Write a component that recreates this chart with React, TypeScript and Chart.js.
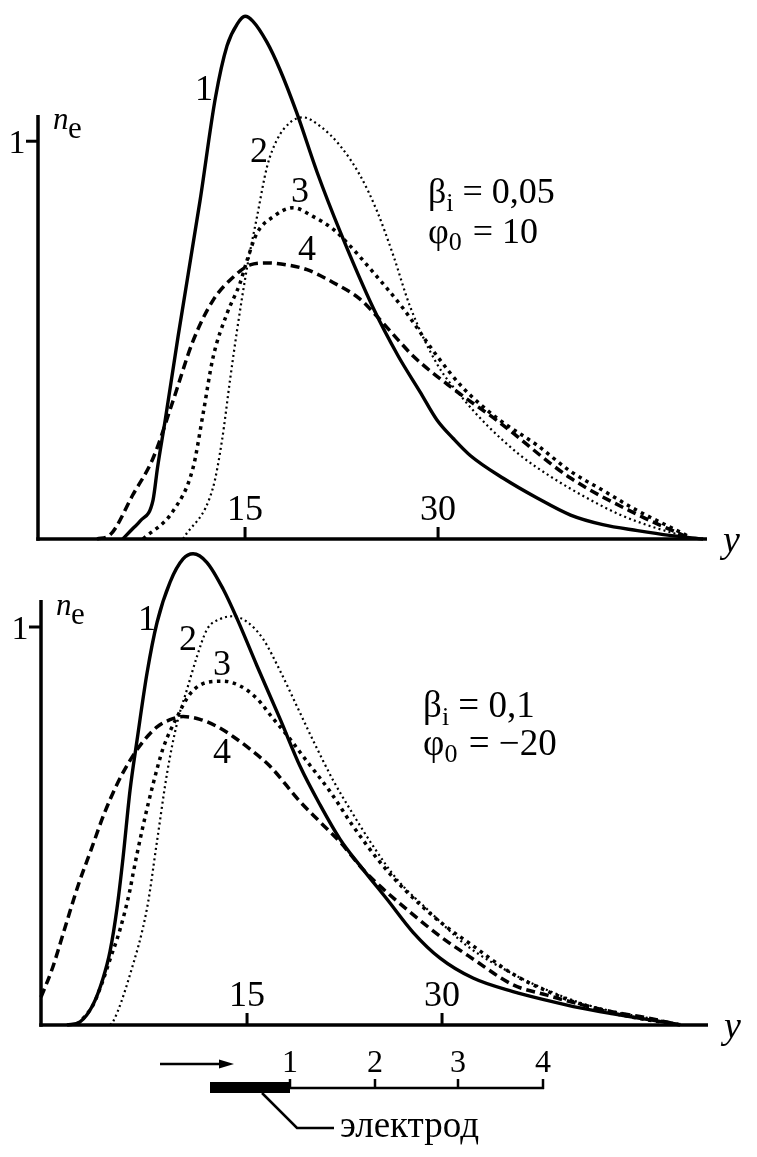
import React, { useEffect, useRef } from "react";
import { Chart, registerables } from "chart.js";

Chart.register(...registerables);

const SERIF = '"Liberation Serif", "Times New Roman", serif';

// ---------- shared ----------
const xTicks = [15, 30];
const yTicks = [1];
const curveNames = ["1", "2", "3", "4"];
const probeLabels = ["1", "2", "3", "4"];
const electrodeText = "электрод";

// ---------- panel A : βi = 0,05 ; φ0 = 10 ----------
const a1X = [5.5, 6.3, 6.85, 7.85, 8.2, 8.8, 9.8, 11.5, 12.7, 13.6, 14.4, 15.0, 15.6, 16.7, 17.7, 19.0, 20.6, 22.4, 25.0, 26.9, 28.6, 29.9, 31.2, 32.5, 35.1, 37.7, 40.3, 42.8, 45.5, 48.0, 50.6];
const a1Y = [0, 0.027, 0.045, 0.098, 0.18, 0.3, 0.51, 0.85, 1.11, 1.24, 1.295, 1.314, 1.302, 1.249, 1.181, 1.073, 0.922, 0.772, 0.578, 0.46, 0.37, 0.3, 0.252, 0.21, 0.152, 0.103, 0.06, 0.036, 0.021, 0.009, 0];

const a2X = [10.18, 12.51, 13.21, 13.83, 14.38, 15.16, 15.93, 16.71, 17.49, 18.5, 19.51, 20.83, 22.38, 23.94, 25.26, 26.5, 27.82, 29.92, 31.94, 33.81, 36.37, 38.94, 41.58, 44.14, 46.71, 49.35];
const a2Y = [0, 0.129, 0.248, 0.399, 0.525, 0.683, 0.81, 0.936, 1.004, 1.047, 1.06, 1.038, 0.989, 0.914, 0.824, 0.715, 0.585, 0.44, 0.353, 0.286, 0.211, 0.153, 0.103, 0.061, 0.03, 0.005];

const a3X = [7.07, 9.4, 10.96, 11.74, 12.51, 13.6, 14.61, 15.16, 15.93, 17.18, 18.73, 20.28, 21.84, 23.16, 24.71, 27.28, 29.92, 31.94, 34.58, 37.69, 40.26, 42.82, 45.46, 48.03, 49.58];
const a3Y = [0, 0.07, 0.179, 0.315, 0.456, 0.567, 0.643, 0.701, 0.769, 0.81, 0.833, 0.811, 0.779, 0.737, 0.68, 0.58, 0.46, 0.38, 0.304, 0.236, 0.171, 0.122, 0.072, 0.03, 0.005];

const a4X = [3.5, 4.5, 6.3, 7.85, 9.4, 10.96, 12.51, 14.07, 15.39, 16.71, 18.26, 19.82, 21.84, 23.94, 25.1, 27.05, 28.06, 31.16, 34.58, 40.26, 45.46, 49.35];
const a4Y = [0, 0.01, 0.112, 0.203, 0.347, 0.498, 0.6, 0.658, 0.689, 0.694, 0.689, 0.677, 0.645, 0.603, 0.565, 0.495, 0.46, 0.378, 0.298, 0.154, 0.062, 0.005];

// ---------- panel B : βi = 0,1 ; φ0 = –20 ----------
const b1X = [1.15, 2.15, 3.15, 3.92, 4.46, 5.0, 5.46, 6.0, 6.54, 7.31, 8.08, 9.08, 10.08, 10.85, 11.92, 13.15, 14.23, 15.77, 17.54, 19.08, 20.62, 22.15, 23.92, 25.77, 27.77, 29.85, 32.38, 35.46, 38.08, 40.62, 43.15, 45.77, 48.31];
const b1Y = [0, 0.008, 0.051, 0.117, 0.185, 0.294, 0.42, 0.59, 0.716, 0.885, 1.012, 1.113, 1.171, 1.184, 1.162, 1.096, 1.021, 0.902, 0.769, 0.65, 0.553, 0.467, 0.391, 0.316, 0.233, 0.168, 0.118, 0.084, 0.062, 0.043, 0.028, 0.014, 0.001];

const b2X = [4.46, 4.69, 6.0, 7.31, 8.08, 8.85, 9.62, 10.38, 11.15, 11.92, 12.92, 13.92, 15.0, 16.23, 17.54, 18.85, 20.08, 21.62, 23.15, 24.69, 26.54, 29.08, 31.92, 35.46, 38.08, 40.62, 43.15, 45.77, 48.31];
const b2Y = [0, 0.008, 0.127, 0.294, 0.463, 0.633, 0.759, 0.843, 0.926, 0.994, 1.02, 1.027, 1.013, 0.97, 0.89, 0.8, 0.715, 0.615, 0.53, 0.45, 0.366, 0.284, 0.199, 0.128, 0.088, 0.056, 0.034, 0.018, 0.002];

const b3X = [1.92, 2.15, 3.15, 3.92, 4.46, 5.23, 6.0, 6.23, 7.0, 7.77, 8.54, 9.62, 10.62, 11.92, 13.15, 14.46, 15.77, 17.0, 18.08, 19.62, 21.38, 23.15, 25.23, 27.31, 29.85, 32.38, 35.46, 38.08, 40.62, 43.15, 45.77, 48.31];
const b3Y = [0, 0.008, 0.05, 0.112, 0.165, 0.24, 0.34, 0.38, 0.5, 0.605, 0.695, 0.774, 0.832, 0.861, 0.864, 0.852, 0.82, 0.77, 0.728, 0.662, 0.587, 0.5, 0.409, 0.334, 0.259, 0.199, 0.128, 0.085, 0.053, 0.03, 0.013, 0.001];

const b4X = [-0.85, 0.0, 1.0, 2.0, 3.0, 4.0, 5.0, 6.0, 7.0, 8.08, 9.08, 10.08, 11.38, 12.69, 13.92, 15.23, 16.77, 19.08, 20.62, 22.15, 23.92, 25.23, 27.31, 29.85, 32.38, 35.46, 38.08, 40.62, 43.15, 45.77, 48.31];
const b4Y = [0.07, 0.14, 0.245, 0.35, 0.44, 0.53, 0.605, 0.665, 0.712, 0.749, 0.767, 0.775, 0.768, 0.75, 0.725, 0.693, 0.65, 0.561, 0.51, 0.46, 0.391, 0.349, 0.29, 0.223, 0.166, 0.101, 0.075, 0.052, 0.033, 0.018, 0];

// line styles for curves 1..4
const lineStyles = [
  { borderWidth: 3.4, borderDash: [] as number[] },
  { borderWidth: 2.2, borderDash: [2, 3.2] },
  { borderWidth: 3.5, borderDash: [3.5, 4.5] },
  { borderWidth: 3.5, borderDash: [9, 5] },
];

type Panel = {
  xs: number[][];
  ys: number[][];
  xMin: number;
  xMax: number;
  yMax: number;
  yAxisTop: number;
  padding: { left: number; right: number; top: number; bottom: number };
  labelPos: [number, number][];
  beta: string;
  phi: string;
  paramPos: [number, number, number];
  paramSize: number;
  schematic: boolean;
};

const panelA: Panel = {
  xs: [a1X, a2X, a3X, a4X],
  ys: [a1Y, a2Y, a3Y, a4Y],
  xMin: -1.09,
  xMax: 50.9,
  yMax: 1.35,
  yAxisTop: 1.066,
  padding: { left: 38, right: 50, top: 2, bottom: 618 },
  labelPos: [
    [11.81, 1.104],
    [16.09, 0.948],
    [19.27, 0.847],
    [19.82, 0.701],
  ],
  beta: "0,05",
  phi: "10",
  paramPos: [29.22, 0.845, 0.744],
  paramSize: 36,
  schematic: false,
};

const panelB: Panel = {
  xs: [b1X, b2X, b3X, b4X],
  ys: [b1Y, b2Y, b3Y, b4Y],
  xMin: -0.85,
  xMax: 50.46,
  yMax: 1.25,
  yAxisTop: 1.068,
  padding: { left: 41, right: 49, top: 527.5, bottom: 132 },
  labelPos: [
    [7.31, 0.992],
    [10.46, 0.942],
    [13.08, 0.879],
    [13.08, 0.658],
  ],
  beta: "0,1",
  phi: "\u221220",
  paramPos: [28.54, 0.774, 0.678],
  paramSize: 37,
  schematic: true,
};

function text(
  ctx: CanvasRenderingContext2D,
  s: string,
  x: number,
  y: number,
  font: string,
  align: CanvasTextAlign = "center"
) {
  ctx.font = font;
  ctx.textAlign = align;
  ctx.textBaseline = "alphabetic";
  ctx.fillText(s, x, y);
  return ctx.measureText(s).width;
}

function line(ctx: CanvasRenderingContext2D, pts: [number, number][], w: number) {
  ctx.beginPath();
  ctx.lineWidth = w;
  ctx.moveTo(pts[0][0], pts[0][1]);
  for (let i = 1; i < pts.length; i++) ctx.lineTo(pts[i][0], pts[i][1]);
  ctx.stroke();
}

function makeDecor(p: Panel) {
  return {
    id: "decor",
    afterDraw(chart: any) {
      const ctx: CanvasRenderingContext2D = chart.ctx;
      const xs = chart.scales.x;
      const ys = chart.scales.y;
      const { left, right, bottom } = chart.chartArea;
      ctx.save();
      ctx.strokeStyle = "#000";
      ctx.fillStyle = "#000";
      ctx.lineCap = "butt";
      ctx.setLineDash([]);

      // axes
      line(ctx, [[left - 1.75, bottom], [right, bottom]], 3.5);
      line(ctx, [[left, bottom + 1.75], [left, ys.getPixelForValue(p.yAxisTop)]], 3.5);

      // y ticks
      for (const t of yTicks) {
        const py = ys.getPixelForValue(t);
        line(ctx, [[left - 12, py], [left, py]], 3);
        text(ctx, String(t), left - 21, py + 12, `34px ${SERIF}`);
        text(ctx, "n", left + 15, py - 12, `italic 31px ${SERIF}`, "left");
        text(ctx, "e", left + 30, py - 3, `31px ${SERIF}`, "left");
      }

      // x ticks (inside, labels above)
      for (const t of xTicks) {
        const px = xs.getPixelForValue(t);
        line(ctx, [[px, bottom], [px, bottom - 12]], 3);
        text(ctx, String(t), px, bottom - 19, `36px ${SERIF}`);
      }
      text(ctx, "y", right + 16, bottom + 13, `italic 38px ${SERIF}`, "left");

      // curve numbers
      p.labelPos.forEach(([lx, ly], i) => {
        text(ctx, curveNames[i], xs.getPixelForValue(lx), ys.getPixelForValue(ly), `36px ${SERIF}`);
      });

      // parameters
      const big = `${p.paramSize}px ${SERIF}`;
      const small = `26px ${SERIF}`;
      const px0 = xs.getPixelForValue(p.paramPos[0]);
      const b1 = ys.getPixelForValue(p.paramPos[1]);
      const b2 = ys.getPixelForValue(p.paramPos[2]);
      let cx = px0;
      cx += text(ctx, "\u03b2", cx, b1, big, "left");
      cx += text(ctx, "i", cx, b1 + 8, small, "left");
      text(ctx, " = " + p.beta, cx, b1, big, "left");
      cx = px0;
      cx += text(ctx, "\u03c6", cx, b2, big, "left");
      cx += text(ctx, "0", cx, b2 + 7, small, "left");
      text(ctx, " = " + p.phi, cx + 2, b2, big, "left");

      // electrode schematic
      if (p.schematic) {
        line(ctx, [[160, 1064], [222, 1064]], 2.5);
        ctx.beginPath();
        ctx.moveTo(234, 1064);
        ctx.lineTo(219, 1059.5);
        ctx.lineTo(219, 1068.5);
        ctx.closePath();
        ctx.fill();
        ctx.fillRect(210, 1082, 80, 11);
        line(ctx, [[290, 1088], [544, 1088]], 2.5);
        const probeX = [290, 375, 458, 543];
        probeX.forEach((x, i) => {
          line(ctx, [[x, 1079], [x, 1089]], 2.5);
          text(ctx, probeLabels[i], x, 1072, `32px ${SERIF}`);
        });
        line(ctx, [[262, 1093], [297, 1128], [334, 1128]], 2.5);
        text(ctx, electrodeText, 340, 1137, `37px ${SERIF}`, "left");
      }
      ctx.restore();
    },
  };
}

function PanelChart({ panel }: { panel: Panel }) {
  const ref = useRef<HTMLCanvasElement | null>(null);
  useEffect(() => {
    if (!ref.current) return;
    const datasets = panel.xs.map((xArr, i) => ({
      label: curveNames[i],
      data: xArr.map((x, j) => ({ x, y: panel.ys[i][j] })),
      borderColor: "#000",
      borderWidth: lineStyles[i].borderWidth,
      borderDash: lineStyles[i].borderDash,
      pointRadius: 0,
      fill: false,
      cubicInterpolationMode: "monotone" as const,
      clip: false as const,
    }));
    const chart = new Chart(ref.current, {
      type: "line",
      data: { datasets },
      options: {
        animation: false,
        responsive: false,
        events: [],
        layout: { padding: panel.padding },
        plugins: { legend: { display: false }, tooltip: { enabled: false } },
        scales: {
          x: { type: "linear", min: panel.xMin, max: panel.xMax, display: false },
          y: { type: "linear", min: 0, max: panel.yMax, display: false },
        },
      },
      plugins: [makeDecor(panel)],
    });
    return () => chart.destroy();
  }, [panel]);
  return (
    <canvas
      ref={ref}
      width={757}
      height={1157}
      style={{ position: "absolute", left: 0, top: 0, width: 757, height: 1157 }}
    />
  );
}

export default function App() {
  return (
    <div style={{ position: "absolute", left: 0, top: 0, width: 757, height: 1157, background: "#fff" }}>
      <PanelChart panel={panelA} />
      <PanelChart panel={panelB} />
    </div>
  );
}
